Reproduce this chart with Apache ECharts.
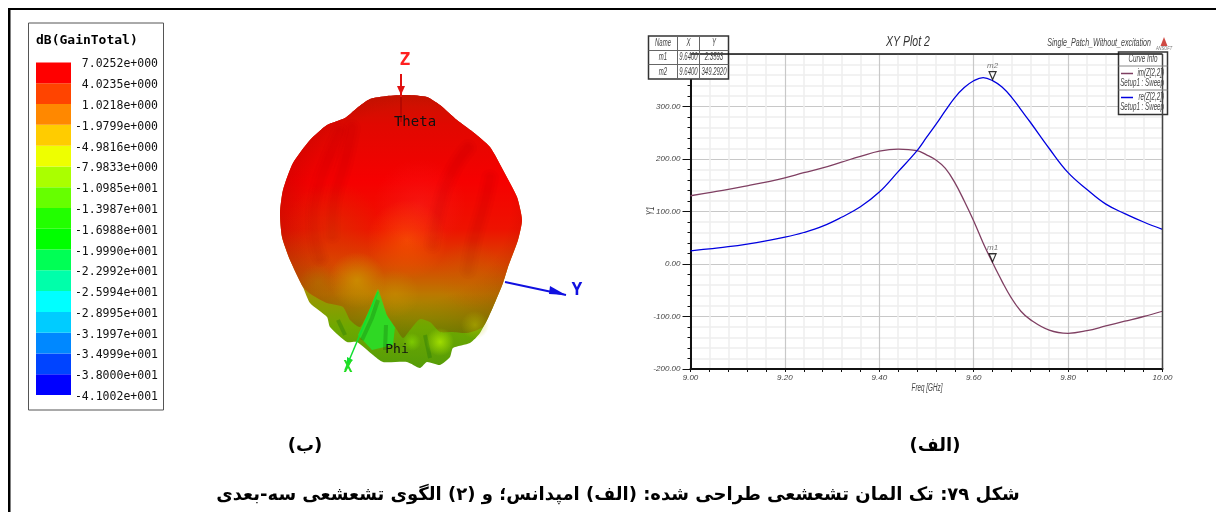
<!DOCTYPE html>
<html>
<head>
<meta charset="utf-8">
<title>XY Plot 2</title>
<script src="https://cdn.jsdelivr.net/npm/echarts@6/dist/echarts.min.js"></script>
<style>
  html, body { margin: 0; padding: 0; background: #fff; }
  #main { width: 1216px; height: 512px; }
</style>
</head>
<body>
<div id="main"></div>
<script>
// --- impedance plot
var freq = [9.00, 9.04, 9.08, 9.12, 9.16, 9.20, 9.24, 9.28, 9.32, 9.36, 9.40, 9.44, 9.48, 9.50, 9.52, 9.54, 9.56, 9.58, 9.60, 9.62, 9.64, 9.66, 9.68, 9.70, 9.72, 9.76, 9.80, 9.84, 9.88, 9.92, 9.96, 10.00];
var imZ = [130, 136, 142, 149, 156, 164, 174, 183, 194, 205, 215, 219, 216, 208, 198, 182, 155, 120, 82, 40, 2.36, -33, -65, -90, -106, -126, -132, -127, -118, -109, -100, -90];
var reZ = [25, 29, 33, 38, 44, 51, 60, 72, 89, 109, 137, 176, 216, 241, 266, 292, 317, 336, 349, 355, 349.29, 337, 318, 294, 270, 220, 174, 142, 114, 96, 80, 66];
var markerNames = ['m1', 'm2'];
var markerX = [9.64, 9.64];
var markerY = [2.3593, 349.292];
var markerTable = [
  ['Name', 'X', 'Y'],
  ['m1', '9.6400', '2.3593'],
  ['m2', '9.6400', '349.2920']
];

// --- gain colour scale
var gainLabels = ['7.0252e+000', '4.0235e+000', '1.0218e+000', '-1.9799e+000', '-4.9816e+000', '-7.9833e+000', '-1.0985e+001', '-1.3987e+001', '-1.6988e+001', '-1.9990e+001', '-2.2992e+001', '-2.5994e+001', '-2.8995e+001', '-3.1997e+001', '-3.4999e+001', '-3.8000e+001', '-4.1002e+001'];
var gainColors = ['#ff0000', '#ff4400', '#ff8800', '#ffcc00', '#eeff00', '#aaff00', '#66ff00', '#22ff00', '#00ff00', '#00ff55', '#00ffaa', '#00ffff', '#00ccff', '#0088ff', '#0044ff', '#0000ff'];

// --- 3D pattern in image pixels
var patternOutline = [[370,99],[387,96],[407,95],[427,97],[440,105],[457,120],[473,132],[490,147],[503,170],[517,197],[522,220],[518,240],[508,267],[503,283],[493,307],[480,333],[470,343],[453,348],[450,357],[440,365],[427,362],[420,368],[407,362],[383,362],[373,355],[357,342],[347,342],[330,327],[327,317],[310,303],[303,287],[290,260],[282,237],[280,213],[283,190],[293,163],[310,140],[327,125],[345,118],[357,108]];
var patternBody = [[370,99],[387,96],[407,95],[427,97],[440,105],[457,120],[473,132],[490,147],[503,170],[517,197],[522,220],[518,240],[508,267],[503,283],[493,307],[483,327],[467,333],[452,332],[440,332],[430,322],[420,319],[410,330],[403,338],[395,327],[387,315],[378,289],[370,308],[360,327],[350,320],[343,307],[327,303],[312,295],[303,287],[290,260],[282,237],[280,213],[283,190],[293,163],[310,140],[327,125],[345,118],[357,108]];
var greenWedge = [[378,289],[387,315],[395,327],[393,345],[372,350],[358,335],[364,322]];
var darkFolds = [
  [[362,340],[372,318],[378,300]],
  [[385,350],[386,325]],
  [[430,358],[425,335]],
  [[345,335],[338,320]]
];
var ridges = [
  [[340,132],[328,160],[318,190],[314,225],[320,258]],
  [[352,128],[344,165],[334,200],[332,235]],
  [[468,148],[452,172],[440,205],[432,245]],
  [[490,178],[484,205],[474,240],[468,270]]
];
// x, y, radius, colour, alpha
var glowSpots = [
  [407, 240, 40, '255,105,0', 0.5],
  [420, 205, 46, '255,60,60', 0.25],
  [333, 230, 48, '205,75,0', 0.35],
  [470, 275, 34, '200,90,0', 0.35],
  [357, 280, 28, '205,170,0', 0.55],
  [395, 294, 24, '205,150,0', 0.4],
  [318, 282, 18, '170,130,0', 0.35],
  [440, 342, 14, '170,230,0', 0.85],
  [412, 342, 9, '140,225,0', 0.6],
  [475, 325, 14, '190,190,0', 0.5]
];
var zAxisLine = [[401, 74], [401, 97]];
var zAxisTail = [[401, 97], [401, 122]];
var yAxisLine = [[505, 282], [566, 295]];
var xAxisLine = [[378, 292], [345, 370]];

var dom = document.getElementById('main');
var myChart = echarts.init(dom);

var sansFamily = '"Liberation Sans", sans-serif';
var fontAxis = 'italic 10px ' + sansFamily;
var plotText = '#444';
var mono = '"DejaVu Sans Mono", monospace';
var graphicItems = [];

function addRect(x, y, w, h, fill, stroke, lw) {
  graphicItems.push({ type: 'rect', silent: true, z: 100, shape: { x: x, y: y, width: w, height: h },
    style: { fill: fill || 'none', stroke: stroke || 'none', lineWidth: lw || 0 } });
}
function addLine(x1, y1, x2, y2, stroke, lw) {
  graphicItems.push({ type: 'line', silent: true, z: 101, shape: { x1: x1, y1: y1, x2: x2, y2: y2 },
    style: { stroke: stroke, lineWidth: lw } });
}
function addText(text, x, y, font, fill, align, rotation, squeeze) {
  graphicItems.push({ type: 'text', silent: true, z: 102, x: x, y: y, rotation: rotation || 0, scaleX: squeeze || 1,
    style: { text: text, font: font, fill: fill, align: align || 'center', verticalAlign: 'middle' } });
}

// outer frame
addRect(8, 8, 1208, 2, '#000');
addRect(8, 8, 2.5, 504, '#000');

// colour scale box
addRect(28.5, 23, 135, 387, '#fff', '#555', 1);
graphicItems[graphicItems.length - 1].z = 0;
addText('dB(GainTotal)', 36, 41, 'bold 13px ' + mono, '#000', 'left');

// plot frame on top of the grid lines
addLine(690.5, 54, 1162.5, 54, '#111', 1.5);
addLine(1162.5, 54, 1162.5, 369, '#444', 1.5);

// marker table
addRect(648.5, 36, 80, 43, '#fff', '#333', 1.5);
addLine(648.5, 50.5, 728.5, 50.5, '#666', 1);
addLine(648.5, 64.5, 728.5, 64.5, '#666', 1);
addLine(677.5, 36, 677.5, 79, '#666', 1);
addLine(699.5, 36, 699.5, 79, '#666', 1);
var tableCols = [663, 688.5, 714];
var tableRows = [43.5, 57.5, 72];
markerTable.forEach(function (row, r) {
  row.forEach(function (cell, c) {
    addText(cell, tableCols[c], tableRows[r], fontAxis, plotText, 'center', 0, 0.6);
  });
});

// curve info box
addRect(1118.5, 52, 49, 62.5, '#fff', '#333', 1.5);
addLine(1118.5, 66, 1167.5, 66, '#888', 1);
addLine(1118.5, 90, 1167.5, 90, '#888', 1);
addText('Curve Info', 1143, 59, fontAxis, plotText, 'center', 0, 0.63);
addLine(1121, 73.5, 1133, 73.5, '#7f3f62', 1.5);
addLine(1121, 97.5, 1133, 97.5, '#0000e0', 1.5);
addText('im(Z[2,2])', 1164, 73.5, fontAxis, plotText, 'right', 0, 0.62);
addText('Setup1 : Sweep', 1164, 83.5, fontAxis, plotText, 'right', 0, 0.62);
addText('re(Z[2,2])', 1164, 97.5, fontAxis, plotText, 'right', 0, 0.62);
addText('Setup1 : Sweep', 1164, 107.5, fontAxis, plotText, 'right', 0, 0.62);

// plot titles
addText('XY Plot 2', 908, 42, 'italic 15px ' + sansFamily, '#333', 'center', 0, 0.7);
addText('Single_Patch_Without_excitation', 1151, 43, fontAxis, '#444', 'right', 0, 0.71);
addText('Y1', 651, 211, fontAxis, plotText, 'center', Math.PI / 2, 0.7);
addText('Freq [GHz]', 927, 388, fontAxis, plotText, 'center', 0, 0.63);

// vendor mark
graphicItems.push({ type: 'polygon', silent: true, z: 101, shape: { points: [[1164, 37], [1167.5, 46], [1160.5, 46]] }, style: { fill: '#cf4a44' } });
addText('ANSOFT', 1164, 49, 'italic 5px ' + sansFamily, '#777', 'center', 0, 0.8);

// axes labels of the pattern
addText('Z', 405, 60, 'bold 18px ' + mono, '#ff2020');
addText('Y', 577, 290, 'bold 18px ' + mono, '#1010e0');
addText('X', 348, 368, 'bold 15px ' + mono, '#22dd22');
addText('Theta', 415, 122, '14px ' + mono, '#111');
addText('Phi', 397, 350, '13px ' + mono, '#111');

// captions
var captionFont = 'bold 18px "DejaVu Sans", sans-serif';
addText('\u202B(\u0628)\u202C', 305, 446, captionFont, '#000');
addText('\u202B(\u0627\u0644\u0641)\u202C', 935, 446, captionFont, '#000');
addText('\u202B\u0634\u06A9\u0644 \u06F7\u06F9: \u062A\u06A9 \u0627\u0644\u0645\u0627\u0646 \u062A\u0634\u0639\u0634\u0639\u06CC \u0637\u0631\u0627\u062D\u06CC \u0634\u062F\u0647: (\u0627\u0644\u0641) \u0627\u0645\u067E\u062F\u0627\u0646\u0633\u061B \u0648 (\u06F2) \u0627\u0644\u06AF\u0648\u06CC \u062A\u0634\u0639\u0634\u0639\u06CC \u0633\u0647-\u0628\u0639\u062F\u06CC\u202C', 618, 495, captionFont, '#000');

function pairs(xs, ys) {
  return xs.map(function (x, i) { return [x, ys[i]]; });
}

function renderPattern(params, api) {
  function pts(list) {
    return list.map(function (p) { return api.coord(p); });
  }
  function radial(stops) {
    return new echarts.graphic.RadialGradient(0.5, 0.5, 0.5, stops);
  }
  var children = [];
  // lower fringe of side lobes
  children.push({ type: 'polygon', shape: { points: pts(patternOutline), smooth: 0.2 },
    style: { fill: new echarts.graphic.LinearGradient(0, 0, 0, 1, [
      { offset: 0, color: '#c00000' }, { offset: 0.7, color: '#a89000' }, { offset: 0.85, color: '#6ea800' }, { offset: 1, color: '#559c08' }
    ]) } });
  children.push({ type: 'polygon', shape: { points: pts(greenWedge) }, style: { fill: '#2fd824' } });
  darkFolds.forEach(function (f) {
    children.push({ type: 'polyline', shape: { points: pts(f) }, style: { fill: 'none', stroke: 'rgba(20,110,10,0.3)', lineWidth: 4 } });
  });
  // main lobe
  children.push({ type: 'polygon', shape: { points: pts(patternBody), smooth: 0.2 },
    style: { fill: new echarts.graphic.LinearGradient(0, 0, 0, 1, [
      { offset: 0, color: '#c81400' }, { offset: 0.12, color: '#e00800' }, { offset: 0.35, color: '#f60000' },
      { offset: 0.55, color: '#ee1200' }, { offset: 0.7, color: '#d84800' }, { offset: 0.82, color: '#bb7800' },
      { offset: 0.92, color: '#909000' }, { offset: 1, color: '#689c00' }
    ]) } });
  // darker rim on the main lobe
  children.push({ type: 'polygon', shape: { points: pts(patternBody), smooth: 0.2 },
    style: { fill: new echarts.graphic.RadialGradient(0.55, 0.45, 0.62, [
      { offset: 0, color: 'rgba(120,0,0,0)' }, { offset: 0.65, color: 'rgba(120,0,0,0)' }, { offset: 1, color: 'rgba(110,10,0,0.3)' }
    ]) } });
  ridges.forEach(function (r) {
    [18, 12, 7].forEach(function (w) {
      children.push({ type: 'polyline', shape: { points: pts(r), smooth: 0.5 },
        style: { fill: 'none', stroke: 'rgba(130,10,0,0.035)', lineWidth: w, lineCap: 'round' } });
    });
  });
  glowSpots.forEach(function (s) {
    var c = api.coord([s[0], s[1]]);
    children.push({ type: 'circle', shape: { cx: c[0], cy: c[1], r: s[2] },
      style: { fill: radial([
        { offset: 0, color: 'rgba(' + s[3] + ',' + s[4] + ')' },
        { offset: 1, color: 'rgba(' + s[3] + ',0)' }
      ]) } });
  });
  // coordinate axes
  function axisLine(list, stroke, w) {
    children.push({ type: 'polyline', shape: { points: pts(list) }, style: { fill: 'none', stroke: stroke, lineWidth: w } });
  }
  function head(tip, a, b, fill) {
    children.push({ type: 'polygon', shape: { points: pts([tip, a, b]) }, style: { fill: fill } });
  }
  axisLine(zAxisTail, '#a00000', 1);
  axisLine(zAxisLine, '#e01010', 2);
  head([401, 95], [397, 86], [405, 86], '#e01010');
  axisLine(yAxisLine, '#1010e0', 2);
  head([566, 295], [550, 286], [549, 294], '#1010e0');
  axisLine(xAxisLine, '#10e030', 1.5);
  head([347, 366], [347, 357], [353, 360], '#10e030');
  return { type: 'group', children: children };
}

var gainSeries = [];
for (var g = gainColors.length - 1; g >= 0; g--) {
  gainSeries.push({
    type: 'bar', stack: 'gain', xAxisIndex: 1, yAxisIndex: 1, barWidth: '100%', silent: true,
    itemStyle: { color: gainColors[g] }, data: [1]
  });
}

var option = {
  backgroundColor: '#fff',
  animation: false,
  grid: [
    { left: 690.5, top: 54, width: 472, height: 315 },
    { left: 36, top: 62.5, width: 35, height: 332.5 },
    { left: 0, top: 0, width: 1216, height: 512 }
  ],
  xAxis: [
    {
      type: 'value', min: 9, max: 10, interval: 0.2, gridIndex: 0,
      axisLine: { onZero: false, lineStyle: { color: '#111', width: 2 } },
      axisTick: { length: 3, lineStyle: { color: '#111' } },
      minorTick: { show: true, splitNumber: 5, length: 3, lineStyle: { color: '#111' } },
      splitLine: { lineStyle: { color: '#c8c8c8', width: 1.2 } },
      minorSplitLine: { show: true, lineStyle: { color: '#eeeeee', width: 1.5 } },
      axisLabel: { margin: 5, fontStyle: 'italic', fontFamily: sansFamily, fontSize: 8, color: plotText,
        formatter: function (v) { return v.toFixed(2); } }
    },
    { type: 'category', gridIndex: 1, data: ['gain'], show: false },
    { type: 'value', gridIndex: 2, min: 0, max: 1216, show: false }
  ],
  yAxis: [
    {
      type: 'value', min: -200, max: 400, interval: 100, gridIndex: 0,
      axisLine: { onZero: false, lineStyle: { color: '#111', width: 2 } },
      axisTick: { length: 8, lineStyle: { color: '#111' } },
      minorTick: { show: true, splitNumber: 5, length: 3, lineStyle: { color: '#111' } },
      splitLine: { lineStyle: { color: '#c8c8c8', width: 1.2 } },
      minorSplitLine: { show: true, lineStyle: { color: '#eeeeee', width: 1.5 } },
      axisLabel: { margin: 10, fontStyle: 'italic', fontFamily: sansFamily, fontSize: 8, color: plotText,
        formatter: function (v) { return v === 400 ? '' : v.toFixed(2); } }
    },
    {
      type: 'value', gridIndex: 1, min: 0, max: 16, interval: 1, position: 'right',
      axisLine: { show: false }, axisTick: { show: false }, splitLine: { show: false },
      axisLabel: { align: 'right', margin: 87,
        rich: { g: { fontFamily: mono, fontSize: 11.5, color: '#111', padding: [4, 0, 0, 0] } },
        formatter: function (v) { return '{g|' + gainLabels[16 - v] + '}'; } }
    },
    { type: 'value', gridIndex: 2, min: 0, max: 512, inverse: true, show: false }
  ],
  series: [
    { name: 'im(Z[2,2])', type: 'line', xAxisIndex: 0, yAxisIndex: 0, data: pairs(freq, imZ), showSymbol: false, smooth: 0.4,
      lineStyle: { color: '#7f3f62', width: 1.3 }, itemStyle: { color: '#7f3f62' }, z: 5 },
    { name: 're(Z[2,2])', type: 'line', xAxisIndex: 0, yAxisIndex: 0, data: pairs(freq, reZ), showSymbol: false, smooth: 0.4,
      lineStyle: { color: '#0000e0', width: 1.3 }, itemStyle: { color: '#0000e0' }, z: 5 },
    { name: 'markers', type: 'scatter', xAxisIndex: 0, yAxisIndex: 0, data: pairs(markerX, markerY),
      symbol: 'triangle', symbolRotate: 180, symbolSize: [7, 8], symbolOffset: [0, -5], z: 6,
      itemStyle: { color: '#fff', borderColor: '#000', borderWidth: 1.2 },
      label: { show: true, position: 'top', distance: 1, fontStyle: 'italic', fontSize: 8, color: '#555',
        fontFamily: sansFamily,
        formatter: function (p) { return markerNames[p.dataIndex]; } } }
  ].concat(gainSeries).concat([
    { type: 'custom', xAxisIndex: 2, yAxisIndex: 2, data: [[0, 0]], renderItem: renderPattern, silent: true, clip: false, z: 3 }
  ]),
  graphic: graphicItems
};

if (option && typeof option === 'object') {
  myChart.setOption(option);
}

window.onresize = function () {
  myChart.resize();
};
</script>
</body>
</html>
